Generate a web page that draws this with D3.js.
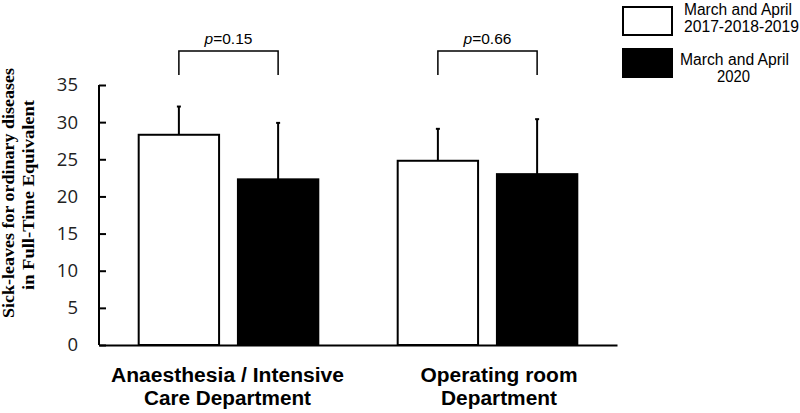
<!DOCTYPE html>
<html><head><meta charset="utf-8">
<script src="https://cdn.jsdelivr.net/npm/d3@7"></script>
<style>body{margin:0;background:#fff}</style>
</head><body>
<svg id="c" width="800" height="413"></svg>
<script>
const categories = [["Anaesthesia / Intensive","Care Department"],["Operating room","Department"]];
const series = ["March and April 2017-2018-2019","March and April 2020"];
const legendLabels = [["March and April","2017-2018-2019"],["March and April","2020"]];
const means2017 = [28.3, 24.8];
const sd2017 = [3.8, 4.3];
const means2020 = [22.3, 23.0];
const sd2020 = [7.6, 7.4];
const pValues = ["0.15","0.66"];
const yTicks = [0,5,10,15,20,25,30,35];
const fills = ["#fff","#000"];

const svg = d3.select("#c");
const y = d3.scaleLinear().domain([0,35]).range([345,85]);
const catIdx = categories.map((d,i)=>i);
const x0 = d3.scaleBand().domain(catIdx).range([99,617]);
const x1 = d3.scaleBand().domain([0,1]).range([0,x0.bandwidth()]).paddingInner(0.19).paddingOuter(0.4);

const data = [];
catIdx.forEach(i=>{
  data.push({c:i,s:0,v:means2017[i],e:sd2017[i]});
  data.push({c:i,s:1,v:means2020[i],e:sd2020[i]});
});

const g = svg.append("g");
data.forEach(d=>{
  const cx = x0(d.c)+x1(d.s)+x1.bandwidth()/2;
  g.append("line").attr("x1",cx).attr("x2",cx).attr("y1",y(d.v)).attr("y2",y(d.v+d.e)).attr("stroke","#000").attr("stroke-width",2);
  g.append("line").attr("x1",cx-2).attr("x2",cx+2).attr("y1",y(d.v+d.e)).attr("y2",y(d.v+d.e)).attr("stroke","#000").attr("stroke-width",2);
});
g.selectAll("rect.bar").data(data).enter().append("rect")
  .attr("x",d=>x0(d.c)+x1(d.s)).attr("width",x1.bandwidth())
  .attr("y",d=>y(d.v)).attr("height",d=>y(0)-y(d.v))
  .attr("fill",d=>fills[d.s]).attr("stroke","#000").attr("stroke-width",2);

// y axis (inward ticks)
const ya = svg.append("g").attr("transform","translate(99,0)")
  .call(d3.axisLeft(y).tickValues(yTicks).tickSize(-7).tickPadding(21));
ya.select(".domain").attr("stroke","#000").attr("stroke-width",2).attr("d","M0,"+y(35)+"V"+y(0));
ya.selectAll(".tick line").attr("stroke","#000").attr("stroke-width",2);
ya.selectAll(".tick text").attr("font-family","'Open Sans', sans-serif").attr("font-size",18.5).attr("fill","#222");

// x axis
const xa = svg.append("g").attr("transform","translate(0,345)")
  .call(d3.axisBottom(x0).tickSize(0).tickFormat(""));
xa.select(".domain").attr("stroke","#000").attr("stroke-width",2);
const xLabCx = [227.5, 499];
const xLabW = [[233,167],[157,116]];
catIdx.forEach(i=>{
  const cx = xLabCx[i];
  const t = svg.append("text")
    .attr("text-anchor","middle").attr("font-family","'Liberation Sans', Arial, sans-serif")
    .attr("font-weight","bold").attr("font-size",19.5).attr("fill","#000");
  categories[i].forEach((ln,k)=>t.append("tspan").attr("x",cx).attr("y",382+k*23)
    .attr("textLength",xLabW[i][k]).attr("lengthAdjust","spacingAndGlyphs").text(ln));
});

// y title
const yt = svg.append("text").attr("transform","translate(0,193) rotate(-90)")
  .attr("text-anchor","middle").attr("font-family","'Liberation Serif', 'Times New Roman', serif")
  .attr("font-weight","bold").attr("font-size",16.5).attr("fill","#000");
yt.append("tspan").attr("x",0).attr("y",14).attr("textLength",250).attr("lengthAdjust","spacingAndGlyphs").text("Sick-leaves for ordinary diseases");
yt.append("tspan").attr("x",-2).attr("y",34).attr("textLength",190).attr("lengthAdjust","spacingAndGlyphs").text("in Full-Time Equivalent");

// p-value brackets
catIdx.forEach(i=>{
  const a = x0(i)+x1(0)+x1.bandwidth()/2, b = x0(i)+x1(1)+x1.bandwidth()/2;
  svg.append("path").attr("d",`M${a},75V51H${b}V75`).attr("fill","none").attr("stroke","#000").attr("stroke-width",1.5);
  const t = svg.append("text").attr("x",(a+b)/2).attr("y",43.5).attr("text-anchor","middle")
    .attr("font-family","'Liberation Sans', Arial, sans-serif").attr("font-size",15.5).attr("fill","#000");
  t.append("tspan").attr("font-style","italic").text("p");
  t.append("tspan").text("="+pValues[i]);
});

// legend
const legY = [7,49];
const legTextY = [15,65];
const legCx = [[738,741.5],[734.5,733.5]];
const legW = [[108,115],[109,33]];
series.forEach((s,i)=>{
  svg.append("rect").attr("x",623).attr("y",legY[i]).attr("width",49).attr("height",28)
    .attr("fill",fills[i]).attr("stroke","#000").attr("stroke-width",2);
  const t = svg.append("text").attr("text-anchor","middle")
    .attr("font-family","'Liberation Sans', Arial, sans-serif").attr("font-size",16).attr("fill","#000");
  legendLabels[i].forEach((ln,k)=>t.append("tspan").attr("x",legCx[i][k]).attr("y",legTextY[i]+k*17)
    .attr("textLength",legW[i][k]).attr("lengthAdjust","spacingAndGlyphs").text(ln));
});
</script>
</body></html>
